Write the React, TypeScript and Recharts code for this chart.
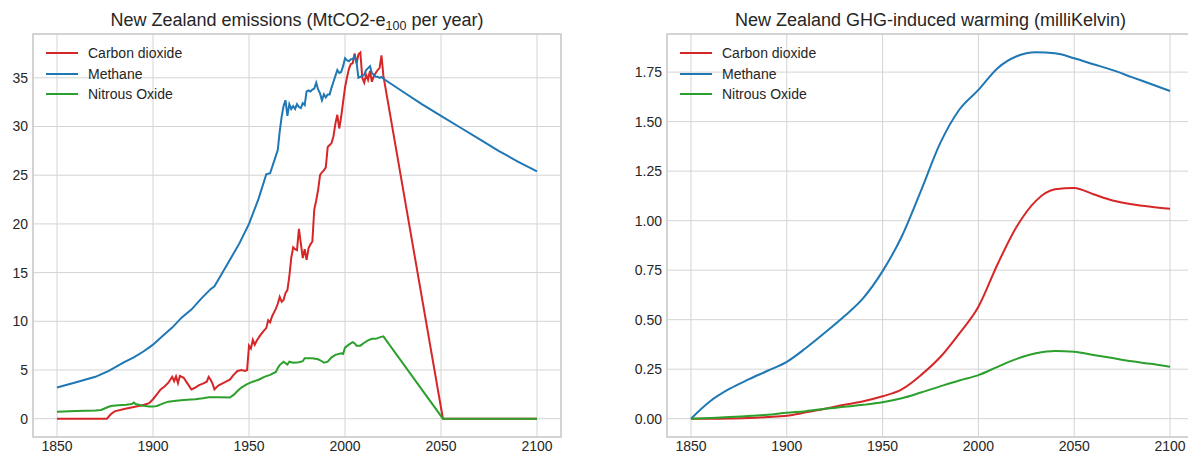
import { CartesianGrid, Legend, Line, LineChart, ReferenceArea, XAxis, YAxis } from 'recharts'

const FONT = '"Liberation Sans", Arial, sans-serif'
const TEXT = '#262626'
const GRID = '#d4d4d4'

const RED = '#d62728'
const BLUE = '#1f77b4'
const GREEN = '#2ca02c'

const yearTicks = [1850, 1900, 1950, 2000, 2050, 2100]
const emissionTicks = [0, 5, 10, 15, 20, 25, 30, 35]
const warmingTicks = [0, 0.25, 0.5, 0.75, 1, 1.25, 1.5, 1.75]

// emissions, MtCO2-e100 per year
const co2Years = [
  1850, 1876, 1878, 1880, 1885, 1890, 1895, 1898, 1900, 1902, 1904, 1906, 1908, 1909, 1910, 1911, 1912, 1913, 1914,
  1916, 1918, 1920, 1922, 1924, 1926, 1928, 1929, 1930, 1931, 1932, 1934, 1936, 1938, 1940, 1942, 1944, 1946, 1948,
  1949, 1950, 1951, 1952, 1953, 1954, 1956, 1958, 1959, 1960, 1961, 1962, 1964, 1965, 1966, 1967, 1968, 1969, 1970,
  1971, 1972, 1973, 1974, 1975, 1976, 1977, 1978, 1979, 1980, 1981, 1982, 1983, 1984, 1985, 1986, 1987, 1988, 1989,
  1990, 1991, 1992, 1993, 1994, 1995, 1996, 1997, 1998, 1999, 2000, 2001, 2002, 2003, 2004, 2005, 2006, 2007, 2008,
  2009, 2010, 2011, 2012, 2013, 2014, 2015, 2016, 2017, 2018, 2019, 2020, 2051, 2100,
]
const co2Emissions = [
  0, 0, 0.45, 0.75, 1.0, 1.2, 1.4, 1.6, 2.0, 2.5, 3.0, 3.3, 3.7, 4.0, 4.3, 3.85, 4.35, 3.65, 4.4,
  4.2, 3.6, 3.0, 3.2, 3.45, 3.6, 3.8, 4.3, 4.0, 3.6, 3.0, 3.4, 3.6, 3.8, 4.0, 4.5, 4.9, 5.0, 4.9,
  5.0, 7.5, 7.2, 8.1, 7.6, 8.0, 8.6, 9.1, 9.3, 10.1, 9.9, 10.5, 11.3, 11.8, 12.5, 12.0, 12.2, 12.9, 13.2,
  14.6, 16.5, 17.6, 17.4, 17.3, 19.5, 18.0, 16.5, 17.4, 16.3, 17.5, 17.9, 18.2, 21.5, 22.4, 23.5, 25.0, 25.3, 25.5,
  25.8, 27.9, 28.1, 28.3, 29.0, 30.3, 31.2, 29.8, 31.0, 32.5, 34.0, 35.0, 35.9, 36.4, 36.5, 37.5, 36.5, 37.4, 37.6,
  35.0, 34.5, 35.3, 34.8, 35.7, 34.6, 35.2, 35.5, 35.8, 36.0, 37.3, 35.2, 0, 0,
]

const ch4Years = [
  1850, 1860, 1870, 1877, 1885, 1890, 1895, 1900, 1905, 1910, 1915, 1920, 1925, 1930, 1932, 1935, 1940, 1945, 1950,
  1955, 1959, 1961, 1963, 1965, 1966, 1967, 1968, 1969, 1970, 1971, 1972, 1973, 1974, 1975, 1976, 1977, 1978, 1979,
  1980, 1981, 1982, 1983, 1984, 1985, 1986, 1987, 1988, 1989, 1990, 1991, 1992, 1993, 1994, 1995, 1996, 1997, 1998,
  1999, 2000, 2001, 2002, 2003, 2004, 2005, 2006, 2007, 2008, 2009, 2010, 2011, 2012, 2013, 2014, 2015, 2016, 2017,
  2018, 2019, 2020, 2030, 2040, 2050, 2060, 2070, 2080, 2090, 2100,
]
const ch4Emissions = [
  3.2, 3.75, 4.3, 4.9, 5.8, 6.3, 6.9, 7.6, 8.5, 9.35, 10.4, 11.2, 12.3, 13.3, 13.6, 14.6, 16.3, 18.0, 20.0,
  22.6, 25.1, 25.2, 26.4, 27.6, 29.5, 31.0, 32.1, 32.7, 31.1, 32.3, 31.8, 32.1, 31.8, 32.3, 32.0, 31.9, 32.4, 32.2,
  33.6, 33.7, 33.6, 33.8, 33.9, 34.5, 33.8, 33.4, 32.7, 33.3, 33.0, 33.3, 33.3, 34.0, 34.6, 35.2, 35.8, 35.5, 35.6,
  36.2, 37.0, 36.8, 36.7, 36.9, 36.9, 37.2, 36.6, 35.0, 35.1, 35.2, 35.3, 35.8, 36.0, 36.2, 35.5, 35.3, 35.1, 35.1,
  35.0, 35.1, 34.9, 33.6, 32.3, 31.1, 29.9, 28.7, 27.5, 26.4, 25.4,
]

const n2oYears = [
  1850, 1860, 1870, 1873, 1876, 1878, 1882, 1886, 1889, 1890, 1891, 1894, 1898, 1900, 1902, 1905, 1908, 1912, 1916,
  1922, 1926, 1929, 1935, 1940, 1942, 1944, 1946, 1949, 1952, 1955, 1958, 1961, 1964, 1965, 1966, 1968, 1970, 1971,
  1973, 1976, 1978, 1979, 1983, 1986, 1988, 1989, 1991, 1993, 1995, 1998, 1999, 2000, 2002, 2004, 2005, 2006, 2008,
  2010, 2012, 2014, 2016, 2018, 2020, 2051, 2100,
]
const n2oEmissions = [
  0.72, 0.8, 0.85, 0.9, 1.15, 1.3, 1.38, 1.42, 1.5, 1.65, 1.5, 1.35, 1.25, 1.24, 1.3, 1.55, 1.75, 1.85, 1.92,
  2.0, 2.1, 2.2, 2.2, 2.17, 2.44, 2.85, 3.2, 3.55, 3.8, 4.0, 4.3, 4.5, 4.8, 5.2, 5.5, 5.85, 5.55, 5.85,
  5.75, 5.8, 5.9, 6.2, 6.2, 6.1, 5.9, 5.75, 5.86, 6.3, 6.55, 6.72, 6.65, 7.3, 7.6, 7.85, 7.75, 7.5, 7.5,
  7.8, 8.05, 8.2, 8.2, 8.35, 8.45, 0, 0,
]

// warming, milliKelvin
const warmingYears = [
  1850, 1860, 1870, 1880, 1890, 1900, 1910, 1920, 1930, 1940, 1950, 1960, 1970, 1980, 1990, 2000, 2010, 2020, 2030,
  2040, 2050, 2060, 2070, 2080, 2090, 2100,
]
const co2Warming = [
  0, 0.0, 0.001, 0.003, 0.008, 0.015, 0.032, 0.05, 0.07, 0.088, 0.113, 0.148, 0.22, 0.31, 0.43, 0.565, 0.78, 0.97,
  1.1, 1.158, 1.165, 1.133, 1.102, 1.083, 1.07, 1.06,
]
const ch4Warming = [
  0, 0.088, 0.15, 0.198, 0.242, 0.287, 0.357, 0.435, 0.517, 0.61, 0.745, 0.92, 1.15, 1.39, 1.56, 1.66, 1.77, 1.83,
  1.85, 1.845, 1.82, 1.79, 1.76, 1.725, 1.69, 1.655,
]
const n2oWarming = [
  0, 0.004, 0.008, 0.013, 0.02, 0.03, 0.038, 0.05, 0.06, 0.07, 0.083, 0.103, 0.132, 0.163, 0.193, 0.22, 0.262,
  0.302, 0.33, 0.342, 0.338, 0.322, 0.306, 0.29, 0.277, 0.262,
]

const pairs = (xs: number[], ys: number[]) => xs.map((year, i) => ({ year, value: ys[i] }))

const emissionSeries = [
  { name: 'Carbon dioxide', color: RED, data: pairs(co2Years, co2Emissions) },
  { name: 'Methane', color: BLUE, data: pairs(ch4Years, ch4Emissions) },
  { name: 'Nitrous Oxide', color: GREEN, data: pairs(n2oYears, n2oEmissions) },
]
const warmingSeries = [
  { name: 'Carbon dioxide', color: RED, data: pairs(warmingYears, co2Warming) },
  { name: 'Methane', color: BLUE, data: pairs(warmingYears, ch4Warming) },
  { name: 'Nitrous Oxide', color: GREEN, data: pairs(warmingYears, n2oWarming) },
]

const X_DOMAIN: [number, number] = [1837.5, 2112.5]

function LegendBox({ payload }: any) {
  return (
    <div style={{ fontFamily: FONT, fontSize: 14, color: TEXT }}>
      {(payload || []).map((p: any) => (
        <div key={p.value} style={{ display: 'flex', alignItems: 'center', height: 20.7 }}>
          <svg width={32} height={4}>
            <line x1={0} x2={32} y1={2} y2={2} stroke={p.color} strokeWidth={2} />
          </svg>
          <span style={{ marginLeft: 10, whiteSpace: 'nowrap' }}>{p.value}</span>
        </div>
      ))}
    </div>
  )
}

interface PanelProps {
  series: { name: string; color: string; data: { year: number; value: number }[] }[]
  yDomain: [number, number]
  yTicks: number[]
  yWidth: number
  rightMargin: number
  smooth: boolean
  format: (v: number) => string
}

function Panel({ series, yDomain, yTicks, yWidth, rightMargin, smooth, format }: PanelProps) {
  return (
    <LineChart width={600} height={454} margin={{ top: 34, right: rightMargin, left: 0, bottom: 0 }}>
      <CartesianGrid stroke={GRID} strokeWidth={1} />
      <XAxis
        type="number"
        dataKey="year"
        domain={X_DOMAIN}
        ticks={yearTicks}
        allowDataOverflow
        axisLine={false}
        tickLine={false}
        tickSize={0}
        tickMargin={4}
        height={17}
        tick={{ fill: TEXT, fontSize: 14, fontFamily: FONT }}
      />
      <YAxis
        type="number"
        domain={yDomain}
        ticks={yTicks}
        allowDataOverflow
        axisLine={false}
        tickLine={false}
        tickSize={0}
        tickMargin={5}
        width={yWidth}
        tickFormatter={format}
        tick={{ fill: TEXT, fontSize: 14, fontFamily: FONT }}
      />
      <ReferenceArea
        x1={X_DOMAIN[0]}
        x2={X_DOMAIN[1]}
        y1={yDomain[0]}
        y2={yDomain[1]}
        fill="none"
        stroke="#cccccc"
        strokeWidth={1.5}
        ifOverflow="visible"
      />
      <Legend
        layout="horizontal"
        verticalAlign="middle"
        align="center"
        content={LegendBox}
        wrapperStyle={{ left: yWidth + 13, top: 42.6, width: 200 }}
      />
      {series.map((s) => (
        <Line
          key={s.name}
          data={s.data}
          dataKey="value"
          name={s.name}
          type={smooth ? 'monotone' : 'linear'}
          stroke={s.color}
          strokeWidth={2}
          dot={false}
          activeDot={false}
          isAnimationActive={false}
        />
      ))}
    </LineChart>
  )
}

export default function App() {
  return (
    <div style={{ position: 'fixed', left: 0, top: 0, width: 1188, height: 454, overflow: 'hidden', background: '#fff' }}>
      <div style={{ position: 'absolute', left: 0, top: 0 }}>
        <Panel
          series={emissionSeries}
          yDomain={[-1.88, 39.5]}
          yTicks={emissionTicks}
          yWidth={33}
          rightMargin={39}
          smooth={false}
          format={(v) => String(v)}
        />
      </div>
      <div style={{ position: 'absolute', left: 630, top: 0 }}>
        <Panel
          series={warmingSeries}
          yDomain={[-0.0925, 1.9425]}
          yTicks={warmingTicks}
          yWidth={37}
          rightMargin={36}
          smooth
          format={(v) => v.toFixed(2)}
        />
      </div>
      <svg width={1188} height={454} style={{ position: 'absolute', left: 0, top: 0, pointerEvents: 'none' }}>
        <text x={297} y={26} textAnchor="middle" fontFamily={FONT} fontSize={18} fill={TEXT}>
          New Zealand emissions (MtCO2-e
          <tspan fontSize={12.5} dy={4}>100</tspan>
          <tspan dy={-4}> per year)</tspan>
        </text>
        <text x={930.5} y={26} textAnchor="middle" fontFamily={FONT} fontSize={18} fill={TEXT}>
          New Zealand GHG-induced warming (milliKelvin)
        </text>
      </svg>
    </div>
  )
}
